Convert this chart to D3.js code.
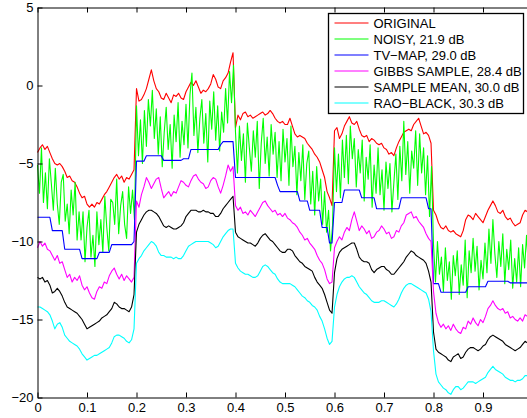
<!DOCTYPE html>
<html>
<head>
<meta charset="utf-8">
<script src="https://cdn.jsdelivr.net/npm/d3@7"></script>
<style>
  body { margin: 0; background: #fff; }
  svg { display: block; font-family: "Liberation Sans", Arial, Helvetica, sans-serif; }
</style>
</head>
<body>
<svg id="chart"></svg>
<script>
const WIDTH = 527;
const HEIGHT = 418;

// sample positions (0.005 for the estimates, 0.004 for the noisy signal)
const X_MAIN = d3.range(201).map(i => i / 200);
const X_NOISY = d3.range(251).map(i => i / 250);

const X_TICKS = [0, 0.1, 0.2, 0.3, 0.4, 0.5, 0.6, 0.7, 0.8, 0.9];
const Y_TICKS = [-20, -15, -10, -5, 0, 5];

const LABELS = ["ORIGINAL", "NOISY, 21.9 dB", "TV\u2212MAP, 29.0 dB", "GIBBS SAMPLE, 28.4 dB", "SAMPLE MEAN, 30.0 dB", "RAO\u2212BLACK, 30.3 dB"];
const COLORS = ["#ff0000", "#00ff00", "#0000ff", "#ff00ff", "#000000", "#00ffff"];

const ORIGINAL = [
  -4.3,-4.0,-3.8,-4.1,-3.9,-4.3,-4.7,-5.0,-5.1,-5.0, -5.2,-5.5,-5.9,-5.8,-6.1,-6.2,-6.5,-6.9,-7.2,-7.1,
  -7.6,-7.8,-7.6,-7.8,-7.5,-7.6,-7.3,-7.0,-6.8,-6.5, -6.2,-5.9,-5.7,-6.0,-5.8,-6.2,-5.9,-6.0,-5.7,-5.4,
  -0.2,-1.0,-0.9,-0.6,-0.2,0.4,1.0,0.3,-0.2,-0.4, -0.8,-0.9,-0.5,-0.8,-1.1,-0.6,-0.7,-0.5,-0.8,-0.9,
  -0.4,-0.1,0.2,0.0,0.3,-0.1,-0.5,-0.3,-0.4,-0.2, 0.1,0.7,0.4,-0.1,-0.2,0.3,0.5,0.8,1.5,2.1,
  -2.7,-1.9,-2.2,-1.8,-1.7,-2.0,-1.9,-2.1,-2.0,-1.9, -1.8,-1.7,-1.9,-1.8,-1.6,-1.8,-2.1,-2.3,-2.4,-2.3,
  -2.5,-2.5,-2.1,-2.6,-3.1,-3.3,-3.2,-3.3,-3.4,-3.7, -3.9,-4.1,-4.4,-4.6,-4.9,-5.4,-5.9,-6.8,-7.2,-7.7,
  -2.9,-2.7,-3.4,-3.1,-2.6,-2.3,-2.0,-2.4,-2.5,-2.3, -2.8,-3.2,-3.3,-3.2,-3.6,-3.4,-3.5,-3.7,-3.8,-3.7,
  -4.0,-4.1,-4.4,-4.3,-4.5,-4.0,-3.6,-3.3,-3.0,-2.9, -2.8,-2.9,-2.5,-2.3,-2.1,-2.6,-3.1,-3.0,-3.2,-3.7,
  -8.0,-8.3,-8.8,-9.1,-9.2,-9.0,-9.3,-9.4,-9.3,-9.5, -9.6,-9.7,-9.3,-8.6,-8.3,-8.4,-8.6,-8.2,-8.4,-8.6,
  -8.8,-8.4,-8.0,-7.7,-7.4,-7.7,-8.1,-8.2,-8.0,-8.4, -8.6,-8.5,-8.8,-9.0,-8.9,-8.8,-8.3,-8.0,-8.1,-7.9,
  -8.0
];

const NOISY = [
  -5.1,-6.9,-4.0,-7.5,-5.6,-7.9,-4.7,-6.3,-8.0,-5.3, -7.6,-8.9,-6.2,-5.7,-8.7,-7.6,-9.5,-6.7,-8.3,-6.2,
  -9.9,-8.1,-9.9,-8.1,-11.3,-9.1,-8.0,-11.0,-9.6,-11.6, -8.1,-10.2,-8.6,-10.7,-7.1,-9.1,-10.6,-7.3,-7.5,-8.9,
  -6.0,-9.5,-7.7,-6.8,-8.9,-9.8,-6.5,-8.2,-6.7,-8.6,
  -1.3,-4.5,-2.2,-5.0,-1.6,-3.9,-0.9,-2.6,-0.3,-3.4, -1.5,-4.4,-2.0,-5.2,-3.0,-1.4,-4.1,-2.5,-5.3,-1.9,
  -3.6,-1.1,-4.6,-2.3,-3.8,-1.2,-4.0,-0.6,0.8,-3.2, -1.4,-4.3,-2.1,-0.9,-3.7,-1.8,-4.9,-1.0,-2.8,-0.4,
  -3.5,-1.3,-4.2,-1.7,-3.0,-0.2,-2.4,0.9,-1.1,1.3,
  -3.0,-5.6,-2.6,-4.8,-3.1,-6.2,-2.4,-4.0,-5.5,-2.9, -4.6,-2.3,-6.6,-3.7,-2.1,-5.0,-3.3,-5.8,-2.5,-4.4,
  -3.0,-5.9,-3.6,-6.1,-2.8,-4.9,-3.4,-6.4,-2.6,-5.2, -3.9,-7.0,-4.3,-6.1,-3.8,-7.3,-5.0,-4.2,-7.6,-5.5,
  -8.3,-5.2,-7.4,-6.0,-8.9,-6.8,-9.4,-8.0,-10.6,-9.0,
  -4.0,-6.8,-4.4,-7.2,-3.5,-5.9,-3.2,-6.3,-2.6,-4.7, -3.4,-6.5,-4.1,-5.6,-3.5,-7.4,-4.6,-6.0,-3.8,-7.8,
  -5.1,-6.9,-4.0,-7.0,-5.4,-8.0,-4.9,-6.6,-5.0,-8.1, -6.2,-4.4,-7.3,-3.9,-6.1,-2.3,-5.7,-3.6,-6.9,-4.2,
  -5.3,-2.9,-6.4,-3.1,-5.6,-4.0,-7.0,-4.5,-8.4,-5.2,
  -10.2,-12.6,-10.0,-12.1,-11.0,-13.2,-10.4,-12.5,-11.3,-13.7, -10.9,-12.2,-10.6,-13.4,-11.5,-12.8,-9.9,-13.6,-10.6,-12.0,
  -9.8,-11.9,-10.3,-13.1,-11.2,-12.4,-10.1,-12.0,-9.2,-11.4, -8.6,-10.8,-12.3,-10.0,-11.6,-9.5,-12.7,-10.5,-11.8,-9.9,
  -13.0,-11.1,-12.6,-10.4,-12.9,-10.2,-11.7,-9.6,-11.9,-10.3, -12.0
];

const TV_MAP = [
  -8.45,-8.45,-8.45,-8.45,-8.45,-8.45,-9.3,-9.3,-9.3,-9.3, -9.3,-10.5,-10.5,-10.5,-10.5,-10.5,-10.5,-10.5,-11.1,-11.1,
  -11.1,-11.1,-11.1,-11.1,-11.1,-10.7,-10.7,-10.7,-10.7,-10.7, -10.2,-10.2,-10.2,-10.2,-10.2,-10.2,-10.2,-10.2,-10.2,-10.0,
  -4.85,-4.85,-4.85,-4.85,-4.5,-4.5,-4.5,-4.5,-4.5,-4.5, -4.5,-4.8,-4.8,-4.8,-4.8,-4.8,-4.8,-4.8,-4.8,-4.7,
  -4.7,-4.7,-4.1,-4.1,-4.1,-4.1,-4.1,-4.1,-4.1,-4.1, -4.1,-4.1,-4.1,-4.1,-3.8,-3.6,-3.6,-3.6,-3.6,-3.6,
  -5.9,-5.9,-5.9,-5.9,-5.9,-5.9,-5.9,-5.9,-5.9,-5.9, -5.9,-5.9,-5.9,-5.9,-5.9,-5.9,-5.9,-6.4,-6.8,-6.8,
  -6.8,-6.8,-6.8,-6.8,-6.8,-6.8,-7.4,-7.4,-7.4,-7.4, -8.0,-8.0,-8.0,-8.0,-8.0,-9.1,-9.1,-9.1,-10.1,-10.1,
  -7.5,-7.5,-7.5,-7.5,-6.7,-6.7,-6.7,-6.7,-6.7,-6.7, -6.7,-7.2,-7.2,-7.2,-7.2,-7.2,-7.2,-7.9,-7.9,-7.9,
  -7.9,-7.9,-7.9,-7.9,-7.9,-7.9,-7.9,-7.2,-7.2,-7.2, -7.2,-7.2,-7.2,-7.2,-7.2,-7.2,-7.2,-7.2,-7.9,-7.9,
  -12.7,-12.7,-12.7,-13.25,-13.25,-13.25,-13.25,-13.25,-13.25,-13.25, -13.25,-13.25,-13.25,-13.25,-12.9,-12.9,-12.9,-12.9,-12.9,-12.9,
  -12.9,-12.9,-12.55,-12.55,-12.55,-12.55,-12.55,-12.55,-12.55,-12.55, -12.55,-12.65,-12.65,-12.65,-12.65,-12.65,-12.65,-12.65,-12.65,-12.65,
  -12.65
];

const GIBBS = [
  -10.4,-10.0,-10.3,-10.1,-10.5,-10.6,-10.9,-11.2,-10.9,-11.4, -11.3,-11.8,-12.3,-12.1,-12.6,-12.3,-12.5,-12.2,-12.8,-13.1,
  -12.9,-13.3,-13.6,-13.7,-13.2,-12.9,-13.0,-12.6,-12.7,-12.2, -11.9,-11.7,-12.1,-12.4,-12.1,-12.5,-12.2,-12.4,-12.6,-12.3,
  -7.4,-7.8,-7.0,-6.5,-5.9,-6.2,-6.6,-6.3,-6.0,-5.9, -6.6,-7.2,-7.0,-6.8,-7.1,-6.8,-6.9,-6.5,-6.1,-6.2,
  -6.4,-6.5,-6.1,-5.8,-5.7,-6.0,-6.2,-6.3,-6.6,-6.5, -6.1,-5.9,-6.0,-6.5,-6.9,-6.4,-5.8,-5.1,-5.5,-5.2,
  -7.7,-8.0,-7.8,-8.2,-8.1,-8.3,-8.0,-8.2,-8.4,-8.1, -7.8,-7.5,-7.4,-7.7,-7.9,-8.1,-8.0,-8.3,-8.2,-8.4,
  -8.2,-8.5,-8.6,-8.8,-8.9,-9.1,-9.4,-9.6,-9.9,-9.8, -10.1,-10.3,-10.5,-10.9,-11.2,-11.4,-11.8,-12.4,-12.7,-12.6,
  -10.4,-10.0,-9.7,-9.9,-9.4,-9.1,-9.3,-8.6,-8.1,-8.7, -9.3,-9.0,-9.2,-9.5,-9.3,-9.8,-9.7,-9.4,-9.3,-9.0,
  -9.2,-9.5,-9.4,-9.8,-9.7,-9.3,-9.4,-9.0,-8.8,-8.3, -8.2,-8.1,-8.5,-8.4,-8.7,-8.9,-9.1,-9.5,-9.8,-10.0,
  -13.2,-14.6,-15.2,-15.5,-15.3,-15.6,-15.4,-15.7,-15.3,-15.6, -15.8,-15.9,-15.5,-15.6,-15.1,-15.3,-14.9,-15.2,-15.4,-15.0,
  -15.2,-14.8,-14.3,-14.1,-13.8,-14.1,-14.3,-14.4,-14.3,-14.6, -14.5,-14.9,-14.8,-15.0,-15.1,-14.9,-15.1,-14.7,-14.8,-14.6,
  -14.7
];

const SAMPLE_MEAN = [
  -12.3,-12.4,-12.3,-12.6,-12.5,-12.8,-13.3,-13.2,-13.0,-13.2, -13.5,-13.9,-14.2,-14.3,-14.4,-14.5,-14.6,-14.8,-15.0,-15.3,
  -15.6,-15.5,-15.4,-15.3,-15.2,-15.1,-14.9,-14.8,-14.7,-14.5, -14.3,-13.9,-14.0,-14.2,-14.3,-14.3,-14.4,-14.5,-14.2,-13.4,
  -9.4,-8.9,-8.6,-8.3,-8.1,-8.0,-8.0,-8.1,-8.2,-8.4, -8.7,-9.0,-9.1,-9.0,-9.1,-9.2,-9.2,-9.1,-9.0,-8.8,
  -8.4,-8.2,-8.0,-8.0,-8.0,-8.1,-8.1,-8.0,-8.1,-8.1, -8.2,-8.2,-8.4,-8.4,-8.2,-7.9,-7.7,-7.5,-7.3,-7.1,
  -9.4,-9.7,-9.8,-9.9,-10.0,-10.1,-10.1,-10.2,-10.3,-10.1, -9.8,-9.6,-9.5,-9.7,-9.9,-10.0,-10.2,-10.4,-10.6,-10.7,
  -10.7,-10.5,-10.5,-10.6,-10.9,-11.1,-11.3,-11.4,-11.6,-11.7, -11.8,-11.9,-12.3,-12.6,-12.8,-13.0,-13.4,-13.9,-14.4,-14.6,
  -12.0,-11.1,-10.7,-10.5,-10.4,-10.3,-10.2,-10.1,-10.1,-10.5, -11.0,-11.2,-11.3,-11.3,-11.4,-11.8,-12.0,-11.8,-11.7,-11.6,
  -11.6,-11.8,-11.9,-12.1,-12.1,-11.9,-11.7,-11.5,-11.3,-11.0, -10.8,-10.6,-10.7,-10.9,-11.0,-11.1,-11.2,-11.4,-11.9,-12.6,
  -15.8,-16.9,-17.1,-17.2,-17.3,-17.4,-17.6,-17.7,-17.4,-17.3, -17.2,-17.5,-17.4,-17.1,-16.9,-16.8,-16.8,-16.9,-17.0,-16.9,
  -16.7,-16.6,-16.3,-16.1,-16.0,-16.1,-16.2,-16.3,-16.4,-16.6, -16.7,-16.8,-16.9,-17.0,-16.9,-16.8,-16.6,-16.4,-16.5,-16.3,
  -16.4
];

const RAO_BLACK = [
  -14.2,-14.2,-14.3,-14.4,-14.5,-14.7,-15.1,-15.6,-15.3,-15.2, -15.5,-16.0,-16.2,-16.4,-16.5,-16.6,-16.7,-16.9,-17.2,-17.4,
  -17.6,-17.5,-17.4,-17.3,-17.3,-17.2,-17.1,-17.0,-16.9,-16.8, -16.5,-16.1,-16.0,-16.0,-16.1,-16.2,-16.4,-16.5,-16.3,-15.6,
  -11.4,-11.1,-10.9,-10.6,-10.4,-10.2,-10.0,-10.1,-10.3,-10.7, -10.9,-10.9,-11.0,-11.0,-11.0,-11.1,-11.0,-11.1,-11.1,-10.9,
  -10.6,-10.3,-10.2,-10.1,-10.0,-10.0,-10.0,-10.0,-10.0,-10.0, -10.1,-10.2,-10.4,-10.3,-10.0,-9.7,-9.5,-9.3,-9.2,-9.2,
  -11.4,-11.7,-11.9,-12.0,-12.1,-12.1,-12.2,-12.3,-12.3,-12.2, -11.9,-11.6,-11.5,-11.6,-11.8,-12.0,-12.1,-12.4,-12.6,-12.7,
  -12.7,-12.7,-12.7,-12.8,-12.9,-13.1,-13.3,-13.5,-13.6,-13.8, -13.9,-14.1,-14.2,-14.4,-14.8,-15.1,-15.6,-16.2,-16.6,-16.4,
  -14.2,-13.4,-12.9,-12.6,-12.4,-12.3,-12.3,-12.2,-12.3,-12.6, -12.9,-13.1,-13.3,-13.4,-13.6,-13.8,-13.9,-13.9,-13.9,-13.8,
  -13.8,-13.9,-14.0,-14.1,-14.2,-14.0,-13.7,-13.3,-13.0,-12.8, -12.7,-12.7,-12.8,-12.9,-13.0,-13.1,-13.2,-13.3,-13.7,-14.5,
  -17.0,-18.5,-19.0,-19.2,-19.4,-19.5,-19.7,-19.8,-19.5,-19.3, -19.3,-19.5,-19.4,-19.2,-19.0,-19.0,-19.0,-19.1,-19.0,-18.9,
  -18.8,-18.7,-18.4,-18.2,-18.0,-18.2,-18.3,-18.4,-18.5,-18.7, -18.8,-18.9,-18.9,-19.0,-18.9,-18.9,-18.8,-18.6,-18.6,-18.5,
  -18.6
];

window.onload = function(){
    makeChart();
};

function makeChart(){
    const svg = d3.select('#chart')
        .attr('width', WIDTH)
        .attr('height', HEIGHT);

    svg.append('rect').attr('width', WIDTH).attr('height', HEIGHT).attr('fill', 'white');

    const x = d3.scaleLinear().domain([0, 1]).range([37.5, 532.5]);
    const y = d3.scaleLinear().domain([-20, 5]).range([397.5, 7.5]);

    const series = [
        {xs: X_MAIN, ys: ORIGINAL},
        {xs: X_NOISY, ys: NOISY},
        {xs: X_MAIN, ys: TV_MAP},
        {xs: X_MAIN, ys: GIBBS},
        {xs: X_MAIN, ys: SAMPLE_MEAN},
        {xs: X_MAIN, ys: RAO_BLACK}
    ];

    const line = d3.line()
        .x(d => x(d[0]))
        .y(d => y(d[1]));

    svg.append('g')
        .selectAll('path')
        .data(series)
        .enter()
        .append('path')
        .attr('d', s => line(s.ys.map((v, i) => [s.xs[i], v])))
        .attr('fill', 'none')
        .attr('stroke', (s, i) => COLORS[i])
        .attr('stroke-width', 1.1)
        .attr('stroke-linejoin', 'round');

    const fmt = d => String(+d.toFixed(1));
    const styleAxis = g => {
        g.attr('font-size', 13).attr('font-family', '"Liberation Sans", Arial, Helvetica, sans-serif');
        g.selectAll('path.domain').attr('stroke', 'black').attr('stroke-width', 1);
        g.selectAll('line').attr('stroke', 'black').attr('stroke-width', 1);
        g.selectAll('text').attr('fill', 'black');
    };

    svg.append('g')
        .attr('transform', 'translate(0,' + y(-20) + ')')
        .call(d3.axisBottom(x).tickValues(X_TICKS).tickFormat(fmt).tickSize(-5).tickSizeOuter(0).tickPadding(5))
        .call(styleAxis);

    svg.append('g')
        .attr('transform', 'translate(0,' + y(5) + ')')
        .call(d3.axisTop(x).tickValues(X_TICKS).tickFormat('').tickSize(-5).tickSizeOuter(0))
        .call(styleAxis);

    svg.append('g')
        .attr('transform', 'translate(' + x(0) + ',0)')
        .call(d3.axisLeft(y).tickValues(Y_TICKS).tickSize(-5).tickSizeOuter(0).tickPadding(4))
        .call(styleAxis);

    // legend
    const legend = svg.append('g').attr('transform', 'translate(328.5,13.5)');
    legend.append('rect')
        .attr('width', 195)
        .attr('height', 100)
        .attr('fill', 'white')
        .attr('stroke', 'black')
        .attr('stroke-width', 1.3);

    const items = legend.selectAll('g.item')
        .data(LABELS)
        .enter()
        .append('g')
        .attr('class', 'item')
        .attr('transform', (d, i) => 'translate(0,' + (9.5 + i * 16) + ')');

    items.append('line')
        .attr('x1', 6).attr('x2', 40)
        .attr('stroke', (d, i) => COLORS[i])
        .attr('stroke-width', 1.1);

    items.append('text')
        .attr('x', 45)
        .attr('dy', '0.35em')
        .attr('font-size', 13)
        .attr('fill', 'black')
        .text(d => d);
}
</script>
</body>
</html>
